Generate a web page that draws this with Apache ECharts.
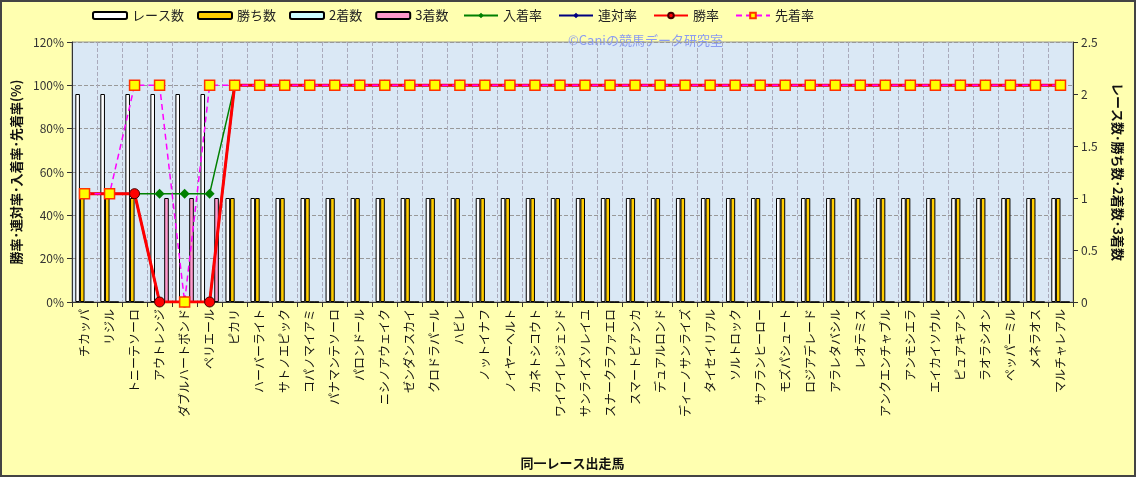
<!DOCTYPE html>
<html><head><meta charset="utf-8">
<script src="https://cdn.jsdelivr.net/npm/echarts@6/dist/echarts.min.js"></script>
<style>html,body{margin:0;padding:0;background:#FFFFB0;}#c{width:1136px;height:477px;box-sizing:border-box;border:2px solid #444;}</style>
</head><body><div id="c"></div>
<script>
const horses = ["チカッパ","リジル","トニーテソーロ","アウトレンジ","ダブルハートボンド","ペリエール","ピカリ","ハーバーライト","サトノエピック","コパノマイアミ","パナマンテソーロ","パロンドール","ニシノアウェイク","ゼンダンスカイ","クロドラパール","ハビレ","ノットイナフ","ノイヤーヘルト","カネトシコウト","ワイワイレジェンド","サンライズソレイユ","スナークラファエロ","スマートビアンカ","デュアルロンド","ディーノサンライズ","タイセイリアル","ソルトロック","サフランヒーロー","モズパシュート","ロジアデレード","アラレタバシル","レオテミス","アンクエンチャブル","アンモシエラ","エイカイソウル","ピュアキアン","ラオラシオン","ペッパーミル","メネラオス","マルチャレアル"];
const races  = [2,2,2,2,2,2,1,1,1,1,1,1,1,1,1,1,1,1,1,1,1,1,1,1,1,1,1,1,1,1,1,1,1,1,1,1,1,1,1,1];
const wins   = [1,1,1,0,0,0,1,1,1,1,1,1,1,1,1,1,1,1,1,1,1,1,1,1,1,1,1,1,1,1,1,1,1,1,1,1,1,1,1,1];
const second = [0,0,0,0,0,0,0,0,0,0,0,0,0,0,0,0,0,0,0,0,0,0,0,0,0,0,0,0,0,0,0,0,0,0,0,0,0,0,0,0];
const third  = [0,0,0,1,1,1,0,0,0,0,0,0,0,0,0,0,0,0,0,0,0,0,0,0,0,0,0,0,0,0,0,0,0,0,0,0,0,0,0,0];
const placeRate = [50,50,50,50,50,50,100,100,100,100,100,100,100,100,100,100,100,100,100,100,100,100,100,100,100,100,100,100,100,100,100,100,100,100,100,100,100,100,100,100];
const rentaiRate = [50,50,50,0,0,0,100,100,100,100,100,100,100,100,100,100,100,100,100,100,100,100,100,100,100,100,100,100,100,100,100,100,100,100,100,100,100,100,100,100];
const winRate = [50,50,50,0,0,0,100,100,100,100,100,100,100,100,100,100,100,100,100,100,100,100,100,100,100,100,100,100,100,100,100,100,100,100,100,100,100,100,100,100];
const senchakuRate = [50,50,100,100,0,100,100,100,100,100,100,100,100,100,100,100,100,100,100,100,100,100,100,100,100,100,100,100,100,100,100,100,100,100,100,100,100,100,100,100];
const leftTicks = [0,20,40,60,80,100,120];
const rightTicks = [0,0.5,1,1.5,2,2.5];

const chart = echarts.init(document.getElementById('c'));
const font = '"Noto Sans CJK JP", sans-serif';
const barBase = {type:'bar', yAxisIndex:1, barWidth:4.6, barGap:'0%'};
chart.setOption({
  backgroundColor:'#FFFFB0',
  textStyle:{fontFamily:font},
  animation:false,
  legend:[
    {left:85, top:2, itemWidth:34, itemHeight:7, itemGap:13, textStyle:{fontSize:13,color:'#222'},
      data:['レース数','勝ち数','2着数','3着数']},
    {left:456, top:2, itemWidth:34, itemHeight:7, itemGap:16, textStyle:{fontSize:13,color:'#222'},
      data:['入着率','連対率','勝率','先着率']}
  ],
  graphic:[{type:'text', left:566, top:32, style:{text:'©Caniの競馬データ研究室', fill:'#8c9cf0', font:'13px '+font}}],
  grid:{left:70, right:61, top:40, bottom:173, outerBoundsMode:'none', containLabel:false, show:true, backgroundColor:'#DAE8F5', borderColor:'#999', borderWidth:1},
  xAxis:{type:'category', data:horses, name:'同一レース出走馬', nameLocation:'middle', nameGap:155,
    nameTextStyle:{fontSize:13,fontWeight:'bold',color:'#111'},
    axisLine:{lineStyle:{color:'#333'}}, axisTick:{show:true, lineStyle:{color:'#333'}},
    axisLabel:{rotate:90, interval:0, fontSize:12, color:'#111', margin:7},
    splitLine:{show:true, lineStyle:{color:'#aab', type:'dashed', width:1}}},
  yAxis:[
    {type:'value', min:0, max:120, interval:20, name:'勝率･連対率･入着率･先着率(%)', nameLocation:'middle', nameGap:47, nameRotate:90,
      nameTextStyle:{fontSize:13,fontWeight:'bold',color:'#111'},
      axisLine:{show:true,lineStyle:{color:'#333'}}, axisTick:{show:true},
      axisLabel:{formatter:v=>v+'%', fontSize:12, color:'#333'},
      splitLine:{show:true, lineStyle:{color:'#999', type:'dashed'}}},
    {type:'value', min:0, max:2.5, interval:0.5, name:'レース数･勝ち数･2着数･3着数', nameLocation:'middle', nameGap:38, nameRotate:-90,
      nameTextStyle:{fontSize:13,fontWeight:'bold',color:'#111'},
      axisLine:{show:true,lineStyle:{color:'#333'}}, axisTick:{show:true},
      axisLabel:{fontSize:12, color:'#333'}, splitLine:{show:false}}
  ],
  series:[
    Object.assign({}, barBase, {name:'レース数', data:races, itemStyle:{color:'#FFFFFF',borderColor:'#000',borderWidth:1}}),
    Object.assign({}, barBase, {name:'勝ち数', data:wins, itemStyle:{color:'#FFCC00',borderColor:'#000',borderWidth:1}}),
    Object.assign({}, barBase, {name:'2着数', data:second, itemStyle:{color:'#CCFFFF',borderColor:'#000',borderWidth:1}}),
    Object.assign({}, barBase, {name:'3着数', data:third, itemStyle:{color:'#FF99CC',borderColor:'#000',borderWidth:1}}),
    {name:'入着率', type:'line', yAxisIndex:0, data:placeRate, symbol:'diamond', symbolSize:10,
      lineStyle:{color:'#008000',width:1.5}, itemStyle:{color:'#008000'}},
    {name:'連対率', type:'line', yAxisIndex:0, data:rentaiRate, symbol:'diamond', symbolSize:10,
      lineStyle:{color:'#000080',width:2}, itemStyle:{color:'#000080'}},
    {name:'勝率', type:'line', yAxisIndex:0, data:winRate, symbol:'circle', symbolSize:10,
      lineStyle:{color:'#FF0000',width:3}, itemStyle:{color:'#FF0000',borderColor:'#400',borderWidth:1}},
    {name:'先着率', type:'line', yAxisIndex:0, data:senchakuRate, symbol:'rect', symbolSize:10,
      lineStyle:{color:'#FF00FF',width:1.5,type:[6,4]}, itemStyle:{color:'#FFFF00',borderColor:'#FF3300',borderWidth:1.5}}
  ]
});
</script></body></html>
